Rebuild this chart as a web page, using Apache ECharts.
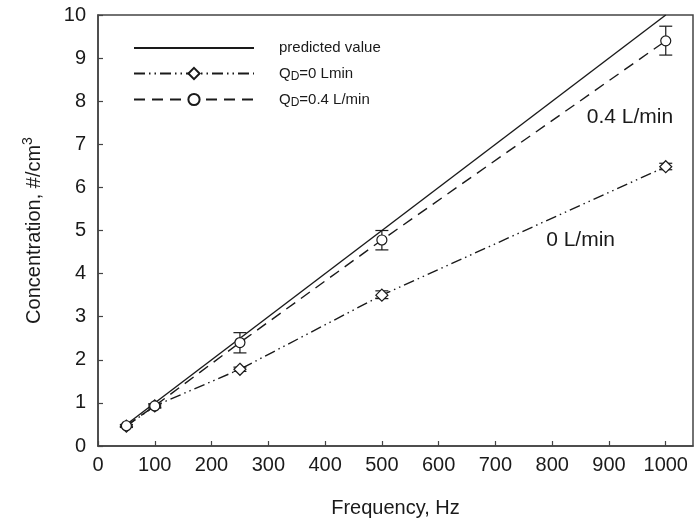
<!DOCTYPE html>
<html>
<head>
<meta charset="utf-8">
<script src="https://cdn.jsdelivr.net/npm/echarts@6/dist/echarts.min.js"></script>
<style>
  html, body { margin: 0; padding: 0; background: #fff; }
  #chart { width: 694px; height: 529px; }
</style>
</head>
<body>
<div id="chart"></div>
<script>
'use strict';
// frequency, Hz
const freq = [50, 100, 250, 500, 1000];
// predicted value (straight line)
const predicted = [[50, 0.5], [1000, 10]];
// Q_D = 0 L/min
const q0 = [0.46, 0.93, 1.78, 3.5, 6.48];
const q0Low = [0.43, 0.89, 1.73, 3.42, 6.41];
const q0High = [0.49, 0.97, 1.83, 3.6, 6.56];
// Q_D = 0.4 L/min
const q04 = [0.47, 0.93, 2.4, 4.78, 9.4];
const q04Low = [0.44, 0.88, 2.16, 4.55, 9.07];
const q04High = [0.5, 0.98, 2.63, 5.0, 9.74];
// curve labels
const notes = [
    { text: '0.4 L/min', at: [937, 7.63] },
    { text: '0 L/min', at: [850, 4.78] }
];

const INK = '#1a1a1a';
const FONT = '"Liberation Sans", Arial, sans-serif';

const pairs = (ys) => freq.map((f, i) => [f, ys[i]]);
const bars = (lo, hi) => freq.map((f, i) => [f, lo[i], hi[i]]);

const errorBars = (data) => ({
    type: 'custom',
    data: data,
    z: 1,
    silent: true,
    renderItem: (params, api) => {
        const top = api.coord([api.value(0), api.value(2)]);
        const bot = api.coord([api.value(0), api.value(1)]);
        const w = 6.5;
        const style = { stroke: INK, lineWidth: 1.2 };
        return {
            type: 'group',
            children: [
                { type: 'line', shape: { x1: top[0], y1: top[1], x2: bot[0], y2: bot[1] }, style },
                { type: 'line', shape: { x1: top[0] - w, y1: top[1], x2: top[0] + w, y2: top[1] }, style },
                { type: 'line', shape: { x1: bot[0] - w, y1: bot[1], x2: bot[0] + w, y2: bot[1] }, style }
            ]
        };
    }
});

const myChart = echarts.init(document.getElementById('chart'));
myChart.setOption({
    animation: false,
    textStyle: { fontFamily: FONT },
    grid: {
        left: 98, right: 1, top: 15, bottom: 83,
        show: true, borderColor: '#444', borderWidth: 1.5
    },
    legend: {
        data: [
            { name: 'predicted value', itemStyle: { opacity: 0 } },
            { name: 'Q_D=0 Lmin' },
            { name: 'Q_D=0.4 L/min' }
        ],
        orient: 'vertical',
        left: 128,
        top: 34,
        itemWidth: 120,
        itemHeight: 14,
        itemGap: 7,
        selectedMode: false,
        formatter: (name) => name.replace('_D', '{sub|D}'),
        textStyle: {
            color: INK,
            fontSize: 15,
            lineHeight: 18,
            fontFamily: FONT,
            padding: [0, 0, 0, 20],
            rich: {
                sub: { fontSize: 12, lineHeight: 18, fontFamily: FONT, color: INK, padding: [7, 0, 0, 0] }
            }
        }
    },
    xAxis: {
        type: 'value',
        min: 0,
        max: 1048,
        interval: 100,
        name: 'Frequency, Hz',
        nameLocation: 'middle',
        nameGap: 52,
        nameTextStyle: { color: INK, fontSize: 20, fontFamily: FONT },
        axisLine: { lineStyle: { color: '#444', width: 1.5 } },
        axisTick: { inside: true, length: 5, lineStyle: { color: '#444', width: 1.2 } },
        axisLabel: {
            color: INK, fontSize: 20, fontFamily: FONT, margin: 9,
            showMaxLabel: false,
            formatter: (v) => (v % 100 === 0 ? String(v) : '')
        },
        splitLine: { show: false }
    },
    yAxis: {
        type: 'value',
        min: 0,
        max: 10,
        interval: 1,
        name: 'Concentration, #/cm{sup|3}',
        nameLocation: 'middle',
        nameGap: 51,
        nameTextStyle: {
            color: INK, fontSize: 20, fontFamily: FONT,
            rich: {
                sup: { fontSize: 14, fontFamily: FONT, color: INK, padding: [0, 0, 12, 0] }
            }
        },
        axisLine: { lineStyle: { color: '#444', width: 1.5 } },
        axisTick: { inside: true, length: 5, lineStyle: { color: '#444', width: 1.2 } },
        axisLabel: { color: INK, fontSize: 20, fontFamily: FONT, margin: 12 },
        splitLine: { show: false }
    },
    series: [
        {
            name: 'predicted value',
            type: 'line',
            data: predicted,
            symbol: 'none',
            lineStyle: { color: INK, width: 1.4, type: 'solid' },
            itemStyle: { color: INK },
            z: 2
        },
        {
            name: 'Q_D=0 Lmin',
            type: 'line',
            data: pairs(q0),
            symbol: 'diamond',
            symbolSize: 12,
            showAllSymbol: true,
            lineStyle: { color: INK, width: 1.4, type: [11, 4, 1.5, 4, 1.5, 4] },
            itemStyle: { color: '#fff', borderColor: INK, borderWidth: 1.2 },
            z: 3,
            markPoint: {
                symbol: 'circle',
                symbolSize: 0,
                silent: true,
                label: { show: true, color: INK, fontSize: 21, fontFamily: FONT, formatter: (p) => p.name },
                data: notes.map(n => ({ name: n.text, coord: n.at }))
            }
        },
        {
            name: 'Q_D=0.4 L/min',
            type: 'line',
            data: pairs(q04),
            symbol: 'circle',
            symbolSize: 10,
            showAllSymbol: true,
            lineStyle: { color: INK, width: 1.4, type: [11, 7] },
            itemStyle: { color: '#fff', borderColor: INK, borderWidth: 1.2 },
            z: 3
        },
        errorBars(bars(q0Low, q0High)),
        errorBars(bars(q04Low, q04High))
    ]
});
</script>
</body>
</html>
